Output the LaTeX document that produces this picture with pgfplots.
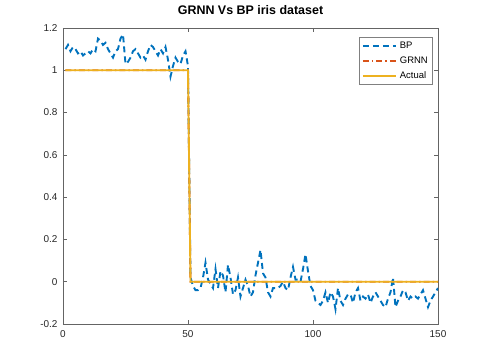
\documentclass[border=0pt]{standalone}
\usepackage{pgfplots}
\pgfplotsset{compat=1.18}
\usepackage{fontspec}
\setmainfont{Liberation Sans}
\definecolor{bpblue}{RGB}{0,114,189}
\definecolor{grnnred}{RGB}{217,83,25}
\definecolor{actorange}{RGB}{237,177,32}
\definecolor{axgray}{RGB}{100,100,100}
\begin{document}
\begin{tikzpicture}
\begin{axis}[
    name=ax,
    scale only axis,
    width=375bp, height=296bp,
    xmin=0, xmax=150, ymin=-0.2, ymax=1.2,
    xtick={0,50,100,150},
    ytick={-0.2,0,0.2,0.4,0.6,0.8,1,1.2},
    yticklabels={-0.2,0,0.2,0.4,0.6,0.8,1,1.2},
    /pgf/number format/assume math mode=true,
    tick align=inside,
    major tick length=4bp,
    axis line style={axgray, line width=0.5pt},
    tick style={axgray, line width=0.5pt},
    ticklabel style={font=\fontsize{10}{12}\selectfont, text=black!85},
    xticklabel style={yshift=-2.7bp},
    yticklabel style={xshift=-2bp},
    title={\bfseries GRNN Vs BP iris dataset},
    title style={font=\fontsize{12.5}{14}\selectfont, at={(0.5,1)}, anchor=base, yshift=8bp},
    legend style={at={(rel axis cs:0.984,0.97)}, anchor=north east,
        draw=black!50, line width=0.4pt, font=\fontsize{9.5}{11}\selectfont,
        inner xsep=2.5bp, inner ysep=1bp, row sep=0bp, column sep=1.5bp,
        nodes={inner xsep=1.5bp, inner ysep=2bp, text height=8bp, text depth=3bp}},
    legend cell align=left,
    legend image code/.code={\draw[#1] (0bp,0bp) -- (33bp,0bp);},
]
\addplot[bpblue, line width=1.9pt, dash pattern=on 6bp off 4bp] coordinates {
(1,1.10) (2,1.12) (3,1.09) (4,1.11) (5,1.10) (6,1.08) (7,1.09) (8,1.07) (9,1.08) (10,1.09)
(11,1.08) (12,1.10) (13,1.09) (14,1.15) (15,1.14) (16,1.12) (17,1.13) (18,1.10) (19,1.08) (20,1.06)
(21,1.09) (22,1.10) (23,1.15) (24,1.17) (25,1.03) (26,1.04) (27,1.06) (28,1.09) (29,1.10) (30,1.08)
(31,1.06) (32,1.07) (33,1.05) (34,1.09) (35,1.12) (36,1.11) (37,1.09) (38,1.07) (39,1.10) (40,1.08)
(41,1.11) (42,1.05) (43,0.97) (44,1.02) (45,1.06) (46,1.04) (47,1.03) (48,1.07) (49,1.09) (50,1.02)
(51,0.02) (52,-0.02) (53,-0.04) (54,-0.04) (55,-0.03) (56,0.02) (57,0.09) (58,0.01) (59,-0.01) (60,-0.03)
(61,0.06) (62,-0.03) (63,0.05) (64,0.03) (65,-0.05) (66,0.08) (67,0.02) (68,-0.06) (69,-0.04) (70,0.02)
(71,-0.07) (72,-0.03) (73,0.01) (74,-0.02) (75,-0.07) (76,-0.05) (77,0.03) (78,0.09) (79,0.15) (80,0.04)
(81,0.02) (82,-0.05) (83,-0.07) (84,-0.03) (85,-0.03) (86,-0.03) (87,-0.02) (88,0.00) (89,-0.03) (90,-0.04)
(91,0.02) (92,0.07) (93,0.01) (94,0.01) (95,0.00) (96,0.06) (97,0.13) (98,0.05) (99,-0.02) (100,-0.04)
(101,-0.09) (102,-0.10) (103,-0.11) (104,-0.09) (105,-0.05) (106,-0.10) (107,-0.05) (108,-0.07) (109,-0.13) (110,-0.03)
(111,-0.09) (112,-0.11) (113,-0.08) (114,-0.06) (115,-0.06) (116,-0.10) (117,-0.05) (118,-0.03) (119,-0.09) (120,-0.07)
(121,-0.08) (122,-0.06) (123,-0.10) (124,-0.07) (125,-0.05) (126,-0.07) (127,-0.09) (128,-0.11) (129,-0.12) (130,-0.08)
(131,-0.05) (132,0.02) (133,-0.12) (134,-0.09) (135,-0.07) (136,-0.04) (137,-0.05) (138,-0.09) (139,-0.07) (140,-0.08)
(141,-0.07) (142,-0.08) (143,-0.06) (144,-0.04) (145,-0.08) (146,-0.12) (147,-0.09) (148,-0.07) (149,-0.05) (150,-0.03)
};
\addlegendentry{BP}
\addplot[grnnred, line width=1.9pt, dash pattern=on 6bp off 3bp on 1.5bp off 3bp] coordinates {
(1,1) (50,1) (51,0) (150,0)
};
\addlegendentry{GRNN}
\addplot[actorange, line width=1.9pt] coordinates {
(1,1) (50,1) (51,0) (150,0)
};
\addlegendentry{Actual}
\end{axis}
\pgfresetboundingbox
\path ([xshift=-63bp,yshift=-39bp]ax.south west) rectangle ([xshift=47bp,yshift=28bp]ax.north east);
\end{tikzpicture}
\end{document}
